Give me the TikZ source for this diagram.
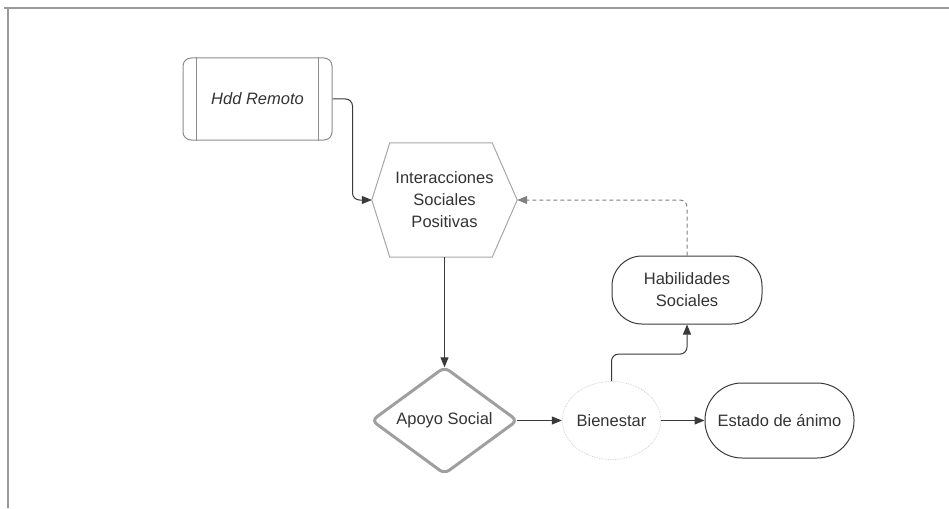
\documentclass[tikz,border=0pt]{standalone}
\usepackage{fontspec}
\setmainfont{Liberation Sans}
\usetikzlibrary{arrows.meta,shapes.geometric,calc}
\definecolor{txt}{HTML}{333333}
\definecolor{ln}{HTML}{3A3A3A}
\definecolor{frm}{HTML}{9A9A9A}
\tikzset{
  lbl/.style={font=\fontsize{16.5}{22}\selectfont, text=txt, align=center},
  arr/.style={draw=ln, line width=1pt, rounded corners=7pt, -{Triangle[length=10pt,width=8pt]}},
  darr/.style={draw=gray, line width=1pt, dashed, dash pattern=on 4pt off 3pt, rounded corners=7pt, -{Triangle[length=10pt,width=8pt]}},
}
\begin{document}
\begin{tikzpicture}[x=1pt,y=-1pt]
\useasboundingbox (0,0) rectangle (949,508);
% frame
\draw[frm, line width=2.5pt] (4,8) -- (949,8);
\draw[frm, line width=2.5pt] (8,8) -- (8,508);

% Hdd Remoto
\node[lbl, draw=gray!90, line width=1pt, rounded corners=8pt, minimum width=149pt, minimum height=82pt] (hdd) at (257.5,99) {\itshape Hdd Remoto};
\draw[gray!90, line width=1pt] ($(hdd.north west)+(14,0)$) -- ($(hdd.south west)+(14,0)$);
\draw[gray!90, line width=1pt] ($(hdd.north east)+(-14,0)$) -- ($(hdd.south east)+(-14,0)$);

% hexagon
\node[lbl, minimum width=145pt, minimum height=114pt, inner sep=0pt] (hex) at (444.5,200) {Interacciones\\Sociales\\Positivas};
\draw[gray!70, line width=1pt] (hex.west) -- ($(hex.north west)+(18,0)$) -- ($(hex.north east)+(-25,0)$) -- (hex.east) -- ($(hex.south east)+(-25,0)$) -- ($(hex.south west)+(18,0)$) -- cycle;

% diamond
\node[lbl, minimum width=145pt, minimum height=106pt, inner sep=0pt] (dia) at (444.5,420.5) {Apoyo Social};
\draw[gray!75, line width=3pt, rounded corners=6pt] (dia.north) -- (dia.east) -- (dia.south) -- (dia.west) -- cycle;

% Bienestar
\node[lbl, ellipse, draw=gray!35, densely dotted, line width=0.8pt, minimum width=93pt, minimum height=78pt, inner sep=0pt] (bien) at (611.5,420.5) {Bienestar};

% Estado de animo
\node[lbl, draw=ln, line width=1pt, rounded corners=37pt, minimum width=149pt, minimum height=75pt] (est) at (779.5,420.5) {Estado de ánimo};

% Habilidades Sociales
\node[lbl, draw=ln, line width=1pt, rounded corners=30pt, minimum width=150pt, minimum height=68pt] (hab) at (687,290) {Habilidades\\Sociales};

% connectors
\draw[arr] (hdd.east) -- ++(20,0) |- (hex.west);
\draw[arr] (hex.south) -- (dia.north);
\draw[arr] (dia.east) -- (bien.west);
\draw[arr] (bien.east) -- (est.west);
\draw[arr] (bien.north) -- ++(0,-27) -| (hab.south);
\draw[darr] (hab.north) |- (hex.east);
\end{tikzpicture}
\end{document}
